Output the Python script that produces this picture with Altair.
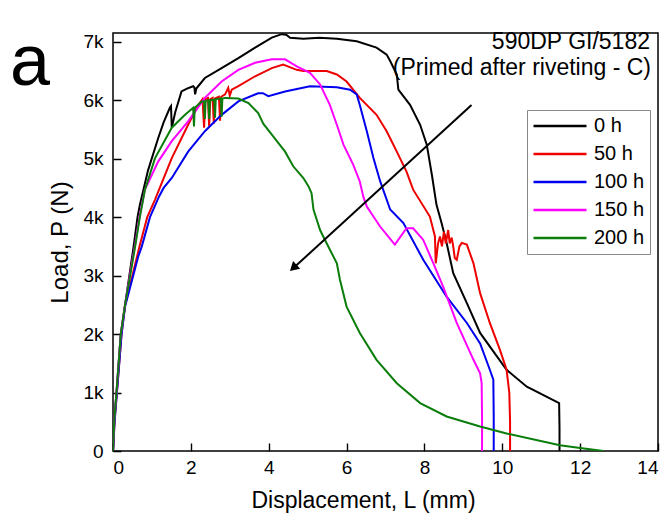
import altair as alt
import pandas as pd

series = ["0 h", "50 h", "100 h", "150 h", "200 h"]
colors = ["#000000", "#ee0000", "#0000ee", "#ff00ff", "#0a7d0a"]

black_x = [0, 0.03, 0.09, 0.2, 0.31, 0.42, 0.53, 0.63, 0.69, 0.9, 1.16, 1.3, 1.46, 1.49, 1.51, 1.6, 1.76, 1.9, 2.06, 2.09, 2.11, 2.14, 2.36, 2.79, 3.22, 3.65, 4.08, 4.33, 4.45, 4.55, 4.89, 5.3, 5.75, 6.26, 6.77, 7.03, 7.12, 7.29, 7.33, 7.63, 7.89, 8.06, 8.19, 8.31, 8.44, 8.57, 8.74, 9.09, 9.43, 10.11, 10.63, 11.31, 11.46, 11.47, 11.47]
black_y = [0, 500, 1000, 2000, 2500, 3000, 3500, 4000, 4210, 4800, 5350, 5620, 5870, 5900, 5530, 5800, 6150, 6200, 6240, 6220, 6100, 6200, 6380, 6550, 6720, 6900, 7070, 7130, 7120, 7070, 7050, 7070, 7050, 7010, 6900, 6780, 6670, 6440, 6180, 5920, 5580, 5240, 4730, 4210, 3900, 3560, 3040, 2530, 2020, 1390, 1100, 870, 820, 400, 0]

red_x = [0, 0.04, 0.1, 0.22, 0.31, 0.5, 0.68, 0.88, 1.08, 1.51, 1.93, 2.19, 2.3, 2.34, 2.37, 2.44, 2.47, 2.5, 2.56, 2.59, 2.62, 2.72, 2.75, 2.78, 2.88, 2.96, 3.0, 3.05, 3.22, 3.65, 4.08, 4.37, 4.72, 4.89, 5.49, 5.75, 6.0, 6.34, 6.77, 7.03, 7.29, 7.54, 7.71, 8.14, 8.27, 8.29, 8.35, 8.4, 8.45, 8.5, 8.55, 8.61, 8.65, 8.7, 8.74, 8.78, 8.83, 8.9, 8.96, 9.09, 9.26, 9.43, 9.68, 9.94, 10.11, 10.18, 10.2, 10.2]
red_y = [0, 500, 1000, 2000, 2500, 3000, 3500, 4000, 4300, 5010, 5580, 5920, 6020, 5530, 6020, 6040, 5550, 6020, 6040, 5600, 6030, 6060, 5650, 6060, 6100, 6210, 6080, 6180, 6240, 6410, 6550, 6610, 6520, 6500, 6500, 6440, 6320, 6040, 5750, 5470, 5120, 4780, 4470, 4010, 3670, 3210, 3550, 3670, 3500, 3750, 3550, 3780, 3550, 3650, 3500, 3300, 3270, 3500, 3560, 3530, 3210, 2700, 2190, 1730, 1390, 1000, 500, 0]

blue_x = [0, 0.04, 0.1, 0.22, 0.31, 0.52, 0.65, 0.74, 0.95, 1.18, 1.3, 1.51, 1.93, 2.36, 2.79, 3.22, 3.73, 3.85, 3.99, 4.42, 5.06, 5.75, 6.09, 6.26, 6.34, 6.52, 6.69, 6.86, 7.12, 7.46, 7.97, 8.57, 9.09, 9.43, 9.68, 9.77, 9.78, 9.78]
blue_y = [0, 500, 1000, 2000, 2470, 3000, 3330, 3500, 4000, 4350, 4500, 4670, 5120, 5470, 5750, 5980, 6120, 6120, 6070, 6150, 6240, 6220, 6180, 6100, 5920, 5470, 5010, 4620, 4130, 3900, 3270, 2640, 2190, 1840, 1390, 1220, 600, 0]

magenta_x = [0, 0.03, 0.09, 0.2, 0.31, 0.43, 0.56, 0.68, 0.82, 1.16, 1.51, 1.93, 2.36, 2.79, 3.22, 3.65, 4.08, 4.42, 4.72, 5.06, 5.32, 5.57, 5.75, 5.92, 6.17, 6.34, 6.43, 6.52, 6.86, 7.24, 7.54, 7.71, 7.97, 8.23, 8.48, 8.83, 9.26, 9.43, 9.47, 9.48, 9.48]
magenta_y = [0, 500, 1000, 2000, 2500, 3000, 3500, 4000, 4470, 4950, 5300, 5640, 6040, 6320, 6520, 6640, 6700, 6700, 6580, 6470, 6270, 5920, 5580, 5240, 4900, 4610, 4350, 4180, 3840, 3530, 3810, 3810, 3610, 3210, 2810, 2190, 1560, 1330, 1160, 600, 0]

green_x = [0, 0.03, 0.09, 0.2, 0.31, 0.44, 0.57, 0.69, 0.82, 1.08, 1.51, 1.85, 2.06, 2.08, 2.1, 2.28, 2.34, 2.36, 2.38, 2.45, 2.47, 2.49, 2.6, 2.62, 2.64, 2.77, 2.79, 2.81, 2.88, 3.22, 3.48, 3.73, 3.86, 4.08, 4.42, 4.63, 4.89, 5.02, 5.1, 5.15, 5.32, 5.4, 5.75, 5.83, 6.0, 6.34, 6.77, 7.29, 7.89, 8.57, 9.43, 10.11, 11.48, 12.0, 12.6]
green_y = [0, 500, 1000, 2000, 2500, 3000, 3500, 4000, 4470, 5010, 5530, 5750, 5870, 5550, 5870, 5980, 5980, 5680, 5990, 6000, 5680, 6000, 6010, 5700, 6020, 6030, 5720, 6030, 6040, 6030, 5950, 5780, 5600, 5410, 5120, 4870, 4670, 4530, 4410, 4130, 3780, 3670, 3210, 2930, 2470, 2020, 1560, 1160, 820, 590, 420, 300, 100, 50, 0]

xs = [black_x, red_x, blue_x, magenta_x, green_x]
ys = [black_y, red_y, blue_y, magenta_y, green_y]

rows = []
for s, xx, yy in zip(series, xs, ys):
    for i, (a, b) in enumerate(zip(xx, yy)):
        rows.append({"series": s, "x": a, "y": b, "i": i})
df = pd.DataFrame(rows)

# tick values: major + minor (minor ticks are drawn half length, labels only on major)
x_ticks = [0, 1, 2, 3, 4, 5, 6, 7, 8, 9, 10, 11, 12, 13, 14]
y_ticks = [0, 500, 1000, 1500, 2000, 2500, 3000, 3500, 4000, 4500, 5000, 5500, 6000, 6500, 7000]

arrow_x = [9.21, 4.62]
arrow_y = [5920, 3120]
arrow_tip_x = [4.66]
arrow_tip_y = [3150]

ann_lines = ["590DP GI/5182", "(Primed after riveting - C)"]

FONT = "Liberation Sans"
W, H = 545, 418
XMAX, YMAX = 14, 7150
TL = 8  # major tick length (inward)

xs_scale = alt.Scale(domain=[0, XMAX], nice=False, zero=False)
ys_scale = alt.Scale(domain=[0, YMAX], nice=False, zero=False)

x_minor_test = "datum.value % 2 !== 0"
y_minor_test = "datum.value % 1000 !== 0"

x_axis = alt.Axis(
    values=x_ticks, title="Displacement, L (mm)", orient="bottom",
    offset=-TL, domain=False, ticks=True, tickSize=TL, tickColor="black", tickWidth=1.4,
    tickDash={"condition": {"test": x_minor_test, "value": [4, 4]}, "value": [1, 0]},
    tickDashOffset={"condition": {"test": x_minor_test, "value": 4}, "value": 0},
    labelExpr="datum.value % 2 === 0 ? datum.label : ''",
    labelPadding=7, titlePadding=12, titleFontSize=23, titleX=250, titleAnchor="start", titleAlign="center",
)
y_axis = alt.Axis(
    values=y_ticks, title="Load, P (N)", orient="left",
    offset=-TL, domain=False, ticks=True, tickSize=TL, tickColor="black", tickWidth=1.4,
    tickDash={"condition": {"test": y_minor_test, "value": [4, 4]}, "value": [1, 0]},
    tickDashOffset={"condition": {"test": y_minor_test, "value": 4}, "value": 0},
    labelExpr="datum.value % 1000 !== 0 ? '' : (datum.value == 0 ? '0' : (datum.value/1000) + 'k')",
    labelPadding=10, titlePadding=10, titleFontSize=24,
)

lines = alt.Chart(df).mark_line(strokeWidth=2, clip=True).encode(
    x=alt.X("x:Q", scale=xs_scale, axis=x_axis),
    y=alt.Y("y:Q", scale=ys_scale, axis=y_axis),
    color=alt.Color("series:N", scale=alt.Scale(domain=series, range=colors),
                    legend=alt.Legend(title=None, orient="none", legendX=414, legendY=77,
                                      symbolType="stroke", symbolSize=2809, symbolStrokeWidth=2.5,
                                      labelFontSize=20, labelFont=FONT, labelColor="black",
                                      strokeColor="#888888", fillColor="white", padding=5,
                                      rowPadding=6, clipHeight=22, labelOffset=6)),
    order="i:Q",
)

arrow = alt.Chart(pd.DataFrame({"x": [arrow_x[0]], "y": [arrow_y[0]], "x2": [arrow_x[1]], "y2": [arrow_y[1]]})).mark_rule(
    color="black", strokeWidth=2).encode(
    x=alt.X("x:Q"), y=alt.Y("y:Q"), x2="x2:Q", y2="y2:Q")
head = alt.Chart(pd.DataFrame({"x": arrow_tip_x, "y": arrow_tip_y})).mark_point(
    shape="triangle", filled=True, color="black", size=110, angle=227.5, opacity=1).encode(
    x=alt.X("x:Q"), y=alt.Y("y:Q"))

ann1 = alt.Chart(pd.DataFrame({"t": [ann_lines[0]]})).mark_text(
    align="right", baseline="middle", font=FONT, fontSize=23, color="black").encode(
    text="t:N", x=alt.value(W - 8), y=alt.value(9))
ann2 = alt.Chart(pd.DataFrame({"t": [ann_lines[1]]})).mark_text(
    align="right", baseline="middle", font=FONT, fontSize=23, color="black").encode(
    text="t:N", x=alt.value(W - 7), y=alt.value(35))

letter = alt.Chart(pd.DataFrame({"t": ["a"]})).mark_text(
    align="left", baseline="alphabetic", font=FONT, fontSize=72, color="black").encode(
    text="t:N", x=alt.value(-103), y=alt.value(52))

chart = alt.layer(lines, arrow, head, ann1, ann2, letter).properties(
    width=W, height=H,
    autosize=alt.AutoSizeParams(type="none"),
    padding={"left": 105, "top": 25, "right": 6, "bottom": 62},
).configure_view(stroke="black", strokeWidth=1.5).configure_axis(
    labelFont=FONT, titleFont=FONT, labelFontSize=19, titleFontWeight="normal",
    labelColor="black", titleColor="black", grid=False,
)

chart.save("out.html", embed_options={"renderer": "svg", "actions": False})
